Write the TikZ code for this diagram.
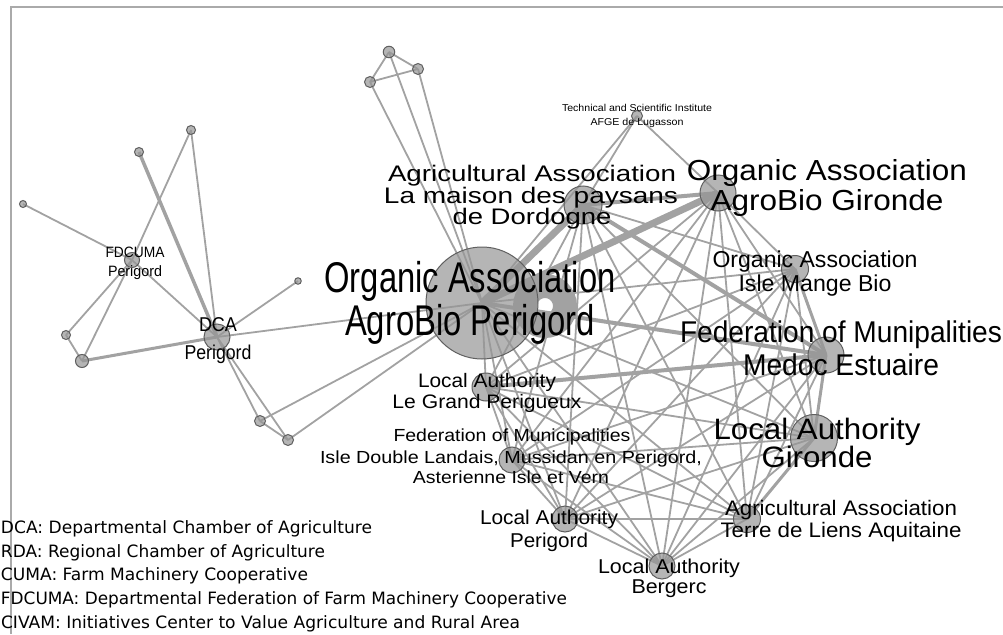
\documentclass[tikz,border=0pt]{standalone}
\usepackage{fontspec}
\usepackage{graphicx}
\setmainfont{Liberation Sans}
\newfontfamily\legfont{DejaVu Sans}
\usetikzlibrary{backgrounds,calc}
\definecolor{edgecol}{RGB}{162,162,162}
\definecolor{nodefill}{RGB}{150,150,150}
\definecolor{nodeline}{RGB}{95,95,95}
\definecolor{framecol}{RGB}{170,170,170}
\newcommand{\fw}[2]{\resizebox{#1pt}{\height}{#2}}
\tikzset{
  vtx/.style={circle, draw=nodeline, line width=1pt, fill=nodefill, fill opacity=0.7, inner sep=0pt, minimum size=#1},
  e/.style={draw=edgecol, line width=1.8pt},
  ew/.style={draw=edgecol, line width=#1},
  lab/.style={anchor=base, inner sep=0pt, outer sep=0pt, text=black, font=\fontsize{#1}{#1}\selectfont},
  leg/.style={anchor=base west, inner sep=0pt, outer sep=0pt, text=black, font=\legfont\fontsize{17}{17}\selectfont}
}
\begin{document}
\begin{tikzpicture}[x=1pt,y=-1pt]
\useasboundingbox (0,0) rectangle (1003,634);
\draw[framecol, line width=2.7pt] (11,634) -- (11,7) -- (1003,7);

% main cluster vertices
\node[vtx=112pt] (P) at (482,303) {};
\node[vtx=38pt] (M) at (583,205) {};
\node[vtx=36pt] (G) at (718,193) {};
\node[vtx=27pt] (I) at (795,269) {};
\node[vtx=36pt] (F) at (826,355) {};
\node[vtx=47pt] (LG) at (814,438) {};
\node[vtx=27pt] (T) at (747,519) {};
\node[vtx=26pt] (B) at (662,566) {};
\node[vtx=26pt] (LP) at (565,519) {};
\node[vtx=26pt] (ID) at (512,460) {};
\node[vtx=28pt] (GP) at (486,387) {};
\node[vtx=11pt] (TI) at (637,116) {};
% top cluster
\node[vtx=11.5pt] (ta) at (389,52) {};
\node[vtx=11pt] (tb) at (418,69) {};
\node[vtx=11pt] (tc) at (370,82) {};
% left cluster
\node[vtx=7pt] (n1) at (23,204) {};
\node[vtx=9pt] (n2) at (139,152) {};
\node[vtx=9pt] (n3) at (191,130) {};
\node[vtx=15pt] (FD) at (132,260) {};
\node[vtx=26pt] (DCA) at (217,337) {};
\node[vtx=6.5pt] (n4) at (298,281) {};
\node[vtx=9pt] (n5) at (66,335) {};
\node[vtx=13pt] (n6) at (82,361) {};
\node[vtx=11pt] (n7) at (260,421) {};
\node[vtx=11pt] (n8) at (288,440) {};

\begin{pgfonlayer}{background}
  \foreach \a [count=\i] in {P,M,G,I,F,LG,T,B,LP,ID,GP}{
    \foreach \b [count=\j] in {P,M,G,I,F,LG,T,B,LP,ID,GP}{
      \ifnum\j>\i \draw[e] (\a.center) -- (\b.center); \fi
    }
  }
  \draw[ew=7pt] (P.center) -- (M.center);
  \draw[ew=7pt] (P.center) -- (G.center);
  \draw[ew=4pt] (M.center) -- (G.center);
  \draw[ew=4pt] (M.center) -- (F.center);
  \draw[ew=4pt] (P.center) -- (F.center);
  \draw[ew=4pt] (GP.center) -- (F.center);
  \draw[ew=3pt] (F.center) -- (LG.center);
  \draw[ew=3pt] (LG.center) -- (T.center);
  \draw[ew=3pt] (I.center) -- (F.center);
  \draw[ew=24pt] ($(P.center)+(63,3)$) circle[radius=20];
  % technical institute
  \draw[e] (TI.center) -- (M.center);
  \draw[e] (TI.center) -- (P.center);
  \draw[e] (TI.center) -- (G.center);
  % top cluster
  \draw[e] (ta.center) -- (tb.center);
  \draw[e] (ta.center) -- (tc.center);
  \draw[e] (tb.center) -- (tc.center);
  \draw[e] (ta.center) -- (P.center);
  \draw[e] (tb.center) -- (P.center);
  \draw[e] (tc.center) -- (P.center);
  % left cluster
  \draw[e] (n1.center) -- (FD.center);
  \draw[e] (n3.center) -- (FD.center);
  \draw[e] (n3.center) -- (DCA.center);
  \draw[ew=3.5pt] (n2.center) -- (DCA.center);
  \draw[e] (FD.center) -- (DCA.center);
  \draw[e] (FD.center) -- (n5.center);
  \draw[e] (FD.center) -- (n6.center);
  \draw[e] (n5.center) -- (n6.center);
  \draw[ew=3pt] (n6.center) -- (DCA.center);
  \draw[e] (DCA.center) -- (n4.center);
  \draw[e] (DCA.center) -- (P.center);
  \draw[e] (DCA.center) -- (n7.center);
  \draw[e] (DCA.center) -- (n8.center);
  \draw[e] (n7.center) -- (n8.center);
  \draw[e] (n7.center) -- (P.center);
  \draw[e] (n8.center) -- (P.center);
\end{pgfonlayer}

% labels
\node[lab=10] (TIt1) at (637,111) {\fw{150}{Technical and Scientific Institute}};
\node[lab=10] (TIt2) at (637,125) {\fw{93}{AFGE de Lugasson}};

\node[lab=22.5] (Mt1) at (532,181) {\fw{288}{Agricultural Association}};
\node[lab=22.5] (Mt2) at (531,203) {\fw{294}{La maison des paysans}};
\node[lab=22.5] (Mt3) at (532,224) {\fw{159}{de Dordogne}};

\node[lab=43] (Pt1) at (470,292) {\fw{291}{Organic Association}};
\node[lab=43] (Pt2) at (470,335) {\fw{250}{AgroBio Perigord}};

\node[lab=15] (FDt1) at (135,257) {\fw{59}{FDCUMA}};
\node[lab=15] (FDt2) at (135,276) {\fw{54}{Perigord}};

\node[lab=20] (DCAt1) at (218,331) {\fw{38}{DCA}};
\node[lab=20] (DCAt2) at (218,359) {\fw{67}{Perigord}};

\node[lab=29] (Gt1) at (827,180) {\fw{280}{Organic Association}};
\node[lab=29] (Gt2) at (827,210) {\fw{233}{AgroBio Gironde}};

\node[lab=23] (It1) at (815,267) {\fw{205}{Organic Association}};
\node[lab=23] (It2) at (815,291) {\fw{153}{Isle Mange Bio}};

\node[lab=30] (Ft1) at (841,342) {\fw{322}{Federation of Munipalities}};
\node[lab=30] (Ft2) at (841,375) {\fw{196}{Medoc Estuaire}};

\node[lab=29.5] (LGt1) at (817,439) {\fw{207}{Local Authority}};
\node[lab=29.5] (LGt2) at (817,467) {\fw{111}{Gironde}};

\node[lab=19.5] (GPt1) at (487,387) {\fw{138}{Local Authority}};
\node[lab=19.5] (GPt2) at (487,408) {\fw{189}{Le Grand Perigueux}};

\node[lab=17.5] (IDt1) at (512,441) {\fw{237}{Federation of Municipalities}};
\node[lab=17.5] (IDt2) at (511,463) {\fw{382}{Isle Double Landais, Mussidan en Perigord,}};
\node[lab=17.5] (IDt3) at (511,483) {\fw{196}{Asterienne Isle et Vern}};

\node[lab=20] (LPt1) at (549,524) {\fw{138}{Local Authority}};
\node[lab=20] (LPt2) at (549,547) {\fw{78}{Perigord}};

\node[lab=21] (Tt1) at (841,515) {\fw{232}{Agricultural Association}};
\node[lab=21] (Tt2) at (841,537) {\fw{241}{Terre de Liens Aquitaine}};

\node[lab=20] (Bt1) at (669,573) {\fw{142}{Local Authority}};
\node[lab=20] (Bt2) at (669,593) {\fw{75}{Bergerc}};

% legend
\node[leg] (L1) at (1,533) {\fw{371}{DCA: Departmental Chamber of Agriculture}};
\node[leg] (L2) at (1,557) {\fw{324}{RDA: Regional Chamber of Agriculture}};
\node[leg] (L3) at (1,580) {\fw{307}{CUMA: Farm Machinery Cooperative}};
\node[leg] (L4) at (1,604) {\fw{566}{FDCUMA: Departmental Federation of Farm Machinery Cooperative}};
\node[leg] (L5) at (1,628) {\fw{519}{CIVAM: Initiatives Center to Value Agriculture and Rural Area}};
\end{tikzpicture}
\end{document}
